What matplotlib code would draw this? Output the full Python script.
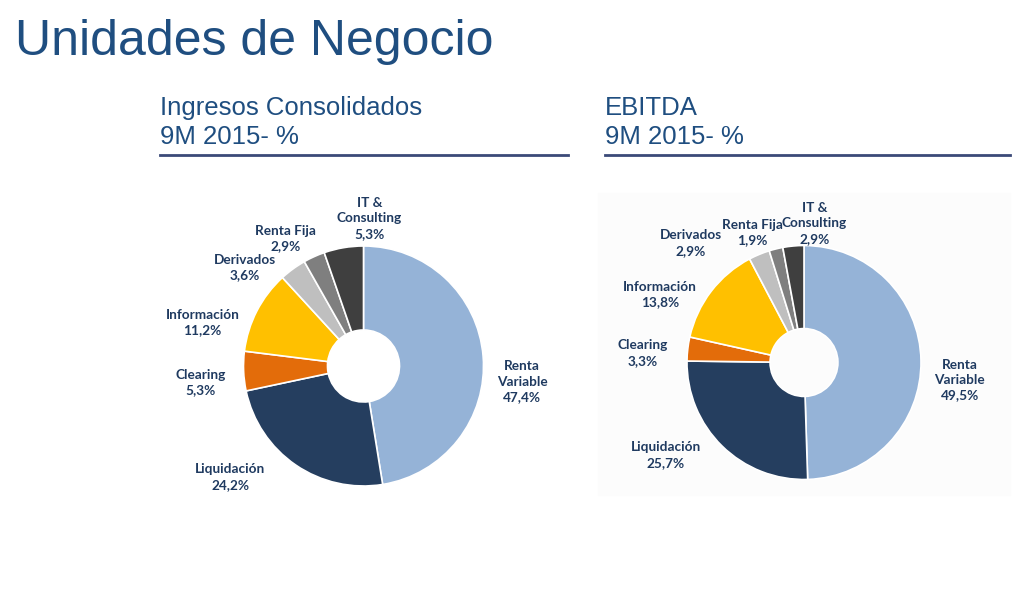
import matplotlib.pyplot as plt
from matplotlib.patches import Rectangle
from matplotlib.lines import Line2D

# data
segments = ['Renta\nVariable', 'Liquidación', 'Clearing', 'Información',
            'Derivados', 'Renta Fija', 'IT &\nConsulting']
ingresos = [47.4, 24.2, 5.3, 11.2, 3.6, 2.9, 5.3]
ebitda = [49.5, 25.7, 3.3, 13.8, 2.9, 1.9, 2.9]
titles = ['Ingresos Consolidados\n9M 2015- %', 'EBITDA\n9M 2015- %']

colors = ['#95B3D7', '#253E5F', '#E36C0A', '#FFC000', '#BFBFBF', '#7F7F7F', '#3F3F3F']
label_color = '#1F3A60'
title_color = '#1F4E80'

# label positions in units of the outer radius
pos1 = [(1.32, -0.13), (-1.11, -0.925), (-1.36, -0.14), (-1.34, 0.36),
        (-0.99, 0.82), (-0.65, 1.06), (0.05, 1.23)]
pos2 = [(1.33, -0.15), (-1.18, -0.79), (-1.38, 0.08), (-1.23, 0.58),
        (-0.97, 1.02), (-0.44, 1.11), (0.09, 1.19)]

W, H = 1017, 605
fig = plt.figure(figsize=(W / 100, H / 100), dpi=100)

# very faint panel behind second donut
fig.patches.append(Rectangle((598 / W, 1 - 495 / H), 412 / W, 302 / H,
                             transform=fig.transFigure, color='#FCFCFC', zorder=-1))

fig.text(15 / W, 1 - 42 / H, 'Unidades de Negocio', fontsize=36, color=title_color,
         family='Liberation Sans', va='center', ha='left')

# subtitles and underline
for x0, x1, t in [(160, 568, titles[0]), (605, 1010, titles[1])]:
    fig.text(x0 / W, 1 - 122.5 / H, t, fontsize=18.5, color=title_color,
             family='Liberation Sans', va='center', ha='left', linespacing=1.25)
    fig.add_artist(Line2D([x0 / W, x1 / W], [1 - 155 / H, 1 - 155 / H],
                          transform=fig.transFigure, color='#3B4A78', lw=2))


def donut(cx, cy, r, values, pos, hole):
    ext = 1.7 * r
    ax = fig.add_axes([(cx - ext) / W, (H - cy - ext) / H, 2 * ext / W, 2 * ext / H])
    ax.pie(values, colors=colors, startangle=90, counterclock=False, radius=1,
           wedgeprops=dict(width=1 - hole, edgecolor='white', linewidth=1.2))
    ax.set_xlim(-1.7, 1.7)
    ax.set_ylim(-1.7, 1.7)
    ax.set_aspect('equal')
    ax.axis('off')
    for name, v, (x, y) in zip(segments, values, pos):
        txt = name + '\n' + f'{v:.1f}'.replace('.', ',') + '%'
        ax.text(x, y, txt, ha='center', va='center', fontsize=9.8,
                family='Lato', weight='bold', color=label_color, linespacing=1.35)
    return ax


donut(363.5, 366, 120, ingresos, pos1, 0.30)
donut(804, 362.5, 117, ebitda, pos2, 0.29)

fig.savefig('out.png', dpi=100, facecolor='white')
